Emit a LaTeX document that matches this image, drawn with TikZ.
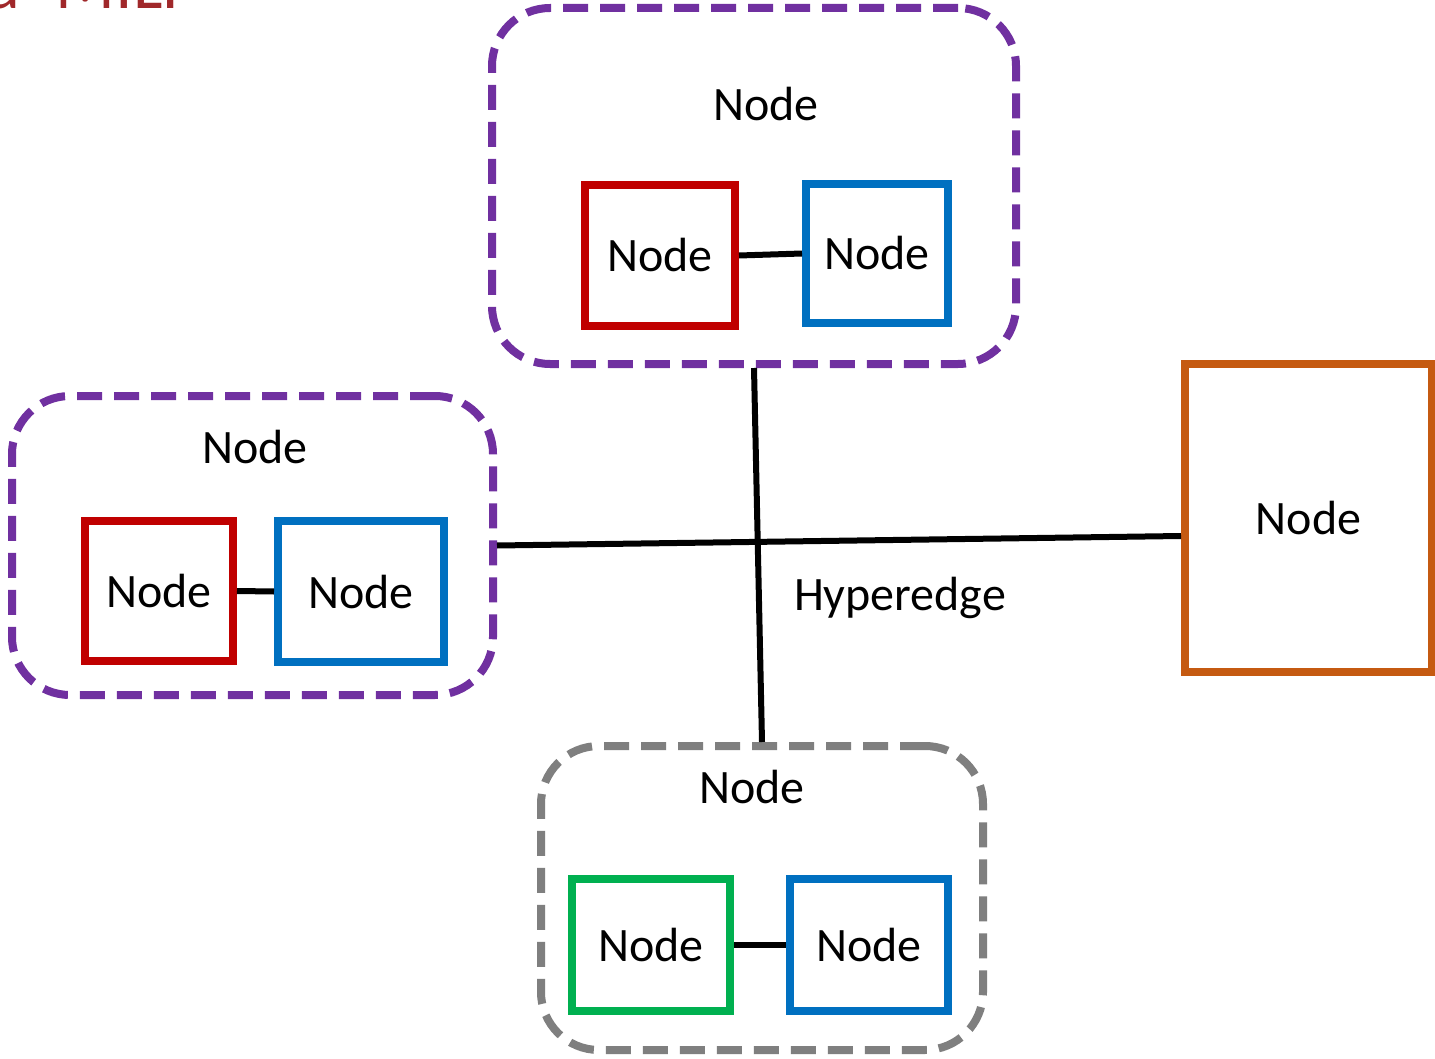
\documentclass[tikz,border=0pt]{standalone}
\usepackage{fontspec}
\setmainfont{Carlito}
\definecolor{cpurple}{HTML}{7030A0}
\definecolor{cred}{HTML}{C00000}
\definecolor{cblue}{HTML}{0070C0}
\definecolor{cgreen}{HTML}{00B050}
\definecolor{cgray}{HTML}{7F7F7F}
\definecolor{corange}{HTML}{C55A11}
\definecolor{ctitle}{HTML}{A0282A}
\begin{document}
\begin{tikzpicture}[x=1pt,y=-1pt,
  lbl/.style={font=\fontsize{48}{56}\selectfont, inner sep=0pt},
  grp/.style={draw=#1, line width=8pt, rounded corners=58pt, dash pattern=on 25pt off 12pt, inner sep=0pt},
  box/.style={draw=#1, line width=8pt, inner sep=0pt, font=\fontsize{48}{56}\selectfont},
  link/.style={line width=6pt, black},
  hedge/.style={line width=6pt, black}]
\useasboundingbox (0,0) rectangle (1435,1059);
\clip (0,0) rectangle (1435,1059);
\fill[white] (0,0) rectangle (1435,1059);
% clipped title
\node[anchor=base west, text=ctitle, font=\fontsize{70}{78}\selectfont, inner sep=0pt] (title) at (-14,9) {a\hspace{36pt}MILP};
% groups
\node[grp=cpurple, minimum width=524pt, minimum height=356pt] (g1) at (754,186) {};
\node[grp=cpurple, minimum width=481pt, minimum height=299pt] (g2) at (252.5,545.5) {};
\node[grp=cgray, minimum width=442pt, minimum height=304pt] (g3) at (762,898) {};
\node[lbl] (g1l) at (766,104) {Node};
\node[lbl] (g2l) at (255,447) {Node};
\node[lbl] (g3l) at (752,787) {Node};
% inner boxes
\node[box=cred, minimum width=150pt, minimum height=141pt] (a1) at (660,255.5) {Node};
\node[box=cblue, minimum width=142pt, minimum height=139pt] (b1) at (877,253.5) {Node};
\node[box=cred, minimum width=148pt, minimum height=140pt] (a2) at (159,591) {Node};
\node[box=cblue, minimum width=166pt, minimum height=141pt] (b2) at (361,591.5) {Node};
\node[box=cgreen, minimum width=158pt, minimum height=132pt] (a3) at (651,945) {Node};
\node[box=cblue, minimum width=158pt, minimum height=132pt] (b3) at (869,945) {Node};
% orange node
\node[box=corange, minimum width=247pt, minimum height=308pt] (o) at (1308.5,518) {Node};
% inner links
\draw[link] (a1.east) -- (b1.west);
\draw[link] (a2.east) -- (b2.west);
\draw[link] (a3.east) -- (b3.west);
% hyperedge
\coordinate (oe) at (o.west |- 0,536);
\draw[hedge] (g2.east) -- (oe);
\draw[hedge] (g1.south) -- (g3.north);
\node[lbl] (hl) at (900,598) {Hyperedge};
\end{tikzpicture}
\end{document}
